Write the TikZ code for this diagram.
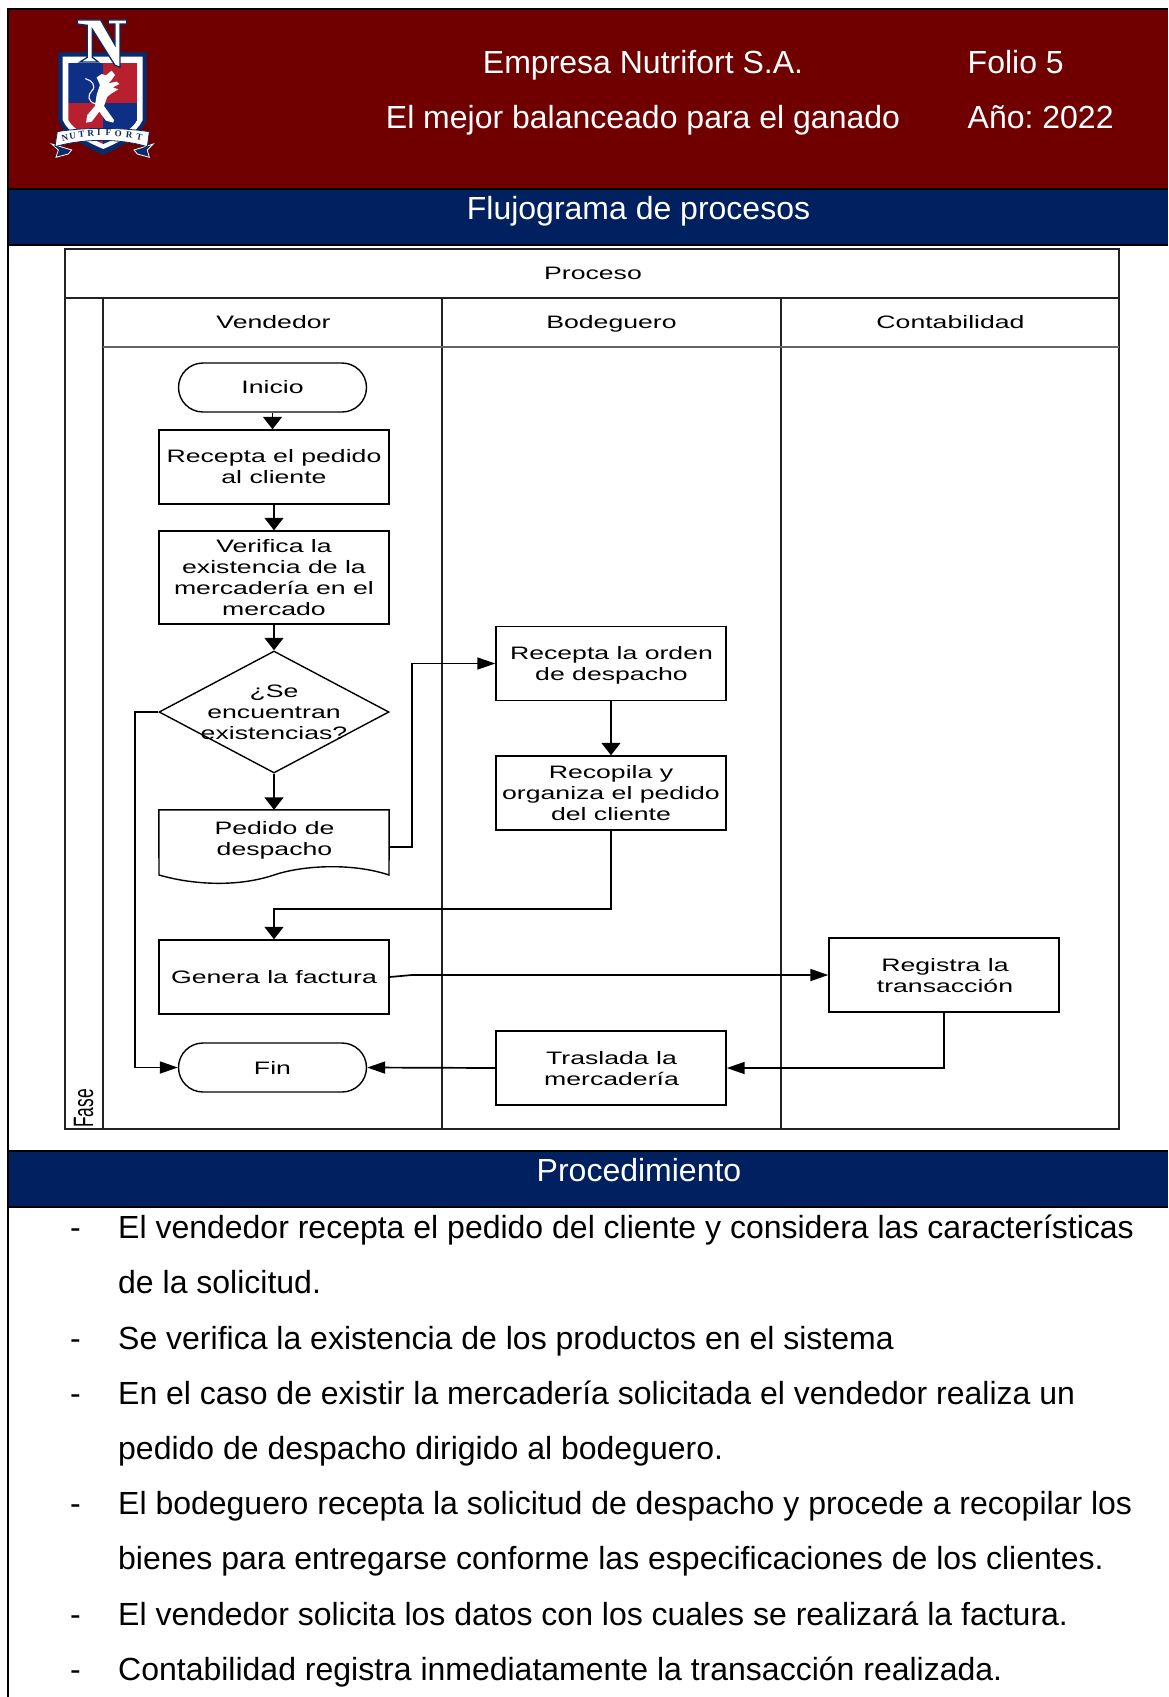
\documentclass[tikz,border=0pt]{standalone}
\usepackage{fontspec}
\setmainfont{Liberation Sans}
\newfontfamily\flowfont[FakeStretch=1.48]{Liberation Sans}
\newfontfamily\fasefont[FakeStretch=0.62]{Liberation Sans}
\newfontfamily\logofont{Liberation Serif}
\usetikzlibrary{arrows.meta,shapes.geometric}
\definecolor{bandred}{HTML}{700000}
\definecolor{bandnavy}{HTML}{002060}
\definecolor{shieldred}{HTML}{B8202F}
\definecolor{shieldblue}{HTML}{0E2F86}
\definecolor{shieldline}{HTML}{0B2A68}
\definecolor{framegray}{HTML}{222222}
\tikzset{
  flowtxt/.style={font=\flowfont\fontsize{18}{21}\selectfont,align=center,inner sep=0pt,text=black},
  procbox/.style={flowtxt,draw=black,line width=1.4pt,fill=white,rectangle,minimum width=230pt,minimum height=74pt},
  termbox/.style={flowtxt,draw=black,line width=1.4pt,fill=white,rectangle,rounded corners=24.5pt,minimum width=188pt,minimum height=49pt},
  decbox/.style={draw=black,line width=1.4pt,fill=white,diamond,aspect=1.885,minimum width=230pt,minimum height=122pt,inner sep=0pt},
  headtxt/.style={font=\fontsize{18}{21}\flowfont\selectfont,anchor=base,inner sep=0pt},
  bandtxt/.style={font=\fontsize{32}{32}\selectfont,text=white,anchor=base,inner sep=0pt},
  bodytxt/.style={font=\fontsize{32}{32}\selectfont,text=black,anchor=base west,inner sep=0pt},
  conn/.style={draw=black,line width=1.7pt},
  varrow/.style={conn,-{Triangle[length=12.5pt,width=19pt]}},
  harrow/.style={conn,-{Triangle[length=18pt,width=12pt]}},
  framel/.style={draw=framegray,line width=2pt},
  thinl/.style={draw=framegray!70,line width=1.5pt},
  bandedge/.style={draw=black,line width=2.2pt}
}
\begin{document}
\frenchspacing
\begin{tikzpicture}[x=1pt,y=-1pt]
\useasboundingbox (0,0) rectangle (1168,1697);
\fill[white] (0,0) rectangle (1168,1697);
% bands
\fill[bandred] (8,9) rectangle (1168,188);
\fill[bandnavy] (8,189) rectangle (1168,245);
\fill[bandnavy] (8,1151) rectangle (1168,1207);
\draw[bandedge] (8,1697) -- (8,9) -- (1168,9);
\draw[bandedge] (8,189) -- (1168,189);
\draw[bandedge] (8,245) -- (1168,245);
\draw[bandedge] (8,1151) -- (1168,1151);
\draw[bandedge] (8,1207) -- (1168,1207);
% logo
\begin{scope}[x=0.3333pt,y=-0.3333pt]
\filldraw[shieldline] (175,157) -- (440,157) -- (440,360) .. controls (420,410) and (360,440) .. (310,465) .. controls (260,440) and (195,410) .. (175,360) -- cycle;
\fill[white] (188,170) -- (428,170) -- (428,360) .. controls (410,400) and (360,425) .. (310,447) .. controls (260,425) and (205,400) .. (188,360) -- cycle;
\begin{scope}
\clip (205,188) -- (412,188) -- (412,360) .. controls (395,390) and (350,415) .. (310,432) .. controls (270,415) and (222,390) .. (205,360) -- cycle;
\fill[shieldblue] (205,188) rectangle (308,310);
\fill[shieldred] (308,188) rectangle (412,310);
\fill[shieldred] (205,310) rectangle (308,432);
\fill[shieldblue] (308,310) rectangle (412,432);
\end{scope}
% lion
\fill[white] (290,232) -- (305,222) -- (318,226) -- (335,212) -- (345,225) -- (335,240) -- (325,250) -- (350,245) -- (358,252) -- (338,262) -- (355,268) -- (335,280) -- (322,290) -- (312,318) -- (342,360) -- (340,368) -- (318,362) -- (298,335) -- (275,365) -- (258,368) -- (262,345) -- (285,318) -- (290,285) -- (300,255) -- cycle;
\draw[white,line width=1.1pt] (288,312) .. controls (262,305) and (262,285) .. (276,272) .. controls (290,258) and (275,240) .. (256,236);
% N
\filldraw[fill=white,draw=shieldline,line width=1.3pt] (232,60) -- (302,60) -- (345,135) -- (345,72) -- (325,72) -- (325,60) -- (380,60) -- (380,72) -- (360,72) -- (360,202) -- (345,196) -- (277,88) -- (277,172) -- (295,186) -- (240,186) -- (262,172) -- (262,76) -- (232,72) -- cycle;
% ribbon
\filldraw[fill=shieldline,draw=white,line width=0.8pt] (155,432) -- (215,450) -- (205,462) -- (168,472) -- (175,450) -- cycle;
\filldraw[fill=shieldline,draw=white,line width=0.8pt] (460,432) -- (402,450) -- (412,462) -- (448,472) -- (442,450) -- cycle;
\filldraw[fill=white,draw=shieldline,line width=0.8pt] (172,395) .. controls (250,382) and (360,382) .. (448,395) -- (442,440) .. controls (360,415) and (250,415) .. (165,440) -- cycle;
\foreach \lt/\lx/\ly/\lr [count=\li] in {N/195/413/12,U/218/408/9,T/245/404/6,R/272/400/3,I/297/399/0,F/325/399/-1,O/355/401/-3,R/388/405/-7,T/418/410/-10}
  \node[font=\logofont\bfseries\fontsize{9}{9}\selectfont,text=shieldline,inner sep=0pt,rotate=\lr] (logo\li) at (\lx,\ly) {\lt};
\end{scope}
% band texts
\node[bandtxt] (empresa) at (643,73) {Empresa Nutrifort S.A.};
\node[bandtxt] (lema) at (643,128) {El mejor balanceado para el ganado};
\node[bandtxt,anchor=base west] (folio) at (967.5,73) {Folio 5};
\node[bandtxt,anchor=base west] (anio) at (967.5,128) {Año: 2022};
\node[bandtxt] (fluj) at (638.5,219) {Flujograma de procesos};
\node[bandtxt] (proc) at (639,1181) {Procedimiento};
% frame
\draw[framel] (65,249) rectangle (1119,1129);
\draw[framel] (65,298) -- (1119,298);
\draw[framel] (103,298) -- (103,1129);
\draw[framel] (441.5,298) -- (441.5,1129);
\draw[framel] (780.5,298) -- (780.5,1129);
\draw[thinl] (103,347) -- (1119,347);
\node[headtxt] (proceso) at (593,279) {Proceso};
\node[headtxt] (vend) at (273.5,328) {Vendedor};
\node[headtxt] (bode) at (611.5,328) {Bodeguero};
\node[headtxt] (conta) at (950.5,328) {Contabilidad};
\node[font=\fasefont\fontsize{28}{28}\selectfont,rotate=90,anchor=base west,inner sep=0pt] (fase) at (93,1128) {Fase};
% flow nodes
\node[termbox] (inicio) at (272.5,387.5) {Inicio};
\node[procbox] (recepta) at (274,467) {Recepta el pedido\\al cliente};
\node[procbox,minimum height=93pt] (verifica) at (274,577.5) {Verifica la\\existencia de la\\mercadería en el\\mercado};
\node[decbox] (dec) at (274,712) {};
\node[flowtxt] (dectxt) at (274,712) {¿Se\\encuentran\\existencias?};
\node[flowtxt,minimum width=230pt,minimum height=74pt] (doc) at (274,847) {};
\draw[line width=1.4pt,fill=white] (doc.north west) -- (doc.north east) -- (389,875) .. controls (350,862) and (300,866) .. (274,875) .. controls (235,888) and (190,884) .. (159,875) -- cycle;
\node[flowtxt] (doctxt) at (274.5,840) {Pedido de\\despacho};
\node[procbox] (genera) at (274,977) {Genera la factura};
\node[termbox] (fin) at (272.5,1067.5) {Fin};
\node[procbox] (recorden) at (611,663.5) {};
\node[flowtxt] (recordentxt) at (611.5,665) {Recepta la orden\\de despacho};
\node[procbox] (recopila) at (611,793) {Recopila y\\organiza el pedido\\del cliente};
\node[procbox] (traslada) at (611,1068) {};
\node[flowtxt] (trasladatxt) at (611.5,1069) {Traslada la\\mercadería};
\node[procbox] (registra) at (944,975) {};
\node[flowtxt] (registratxt) at (945,976) {Registra la\\transacción};
% connectors
\draw[varrow] (inicio) -- (inicio |- recepta.north);
\draw[varrow] (recepta) -- (verifica);
\draw[varrow] (verifica) -- (dec);
\draw[varrow] (dec) -- (doc.north);
\draw[harrow] (doc.east) -- (412,847) -- (412,663.5) -- (recorden.west);
\draw[harrow] (dec.west) -- (135,712) -- (135,1067.5) -- (fin.west);
\draw[varrow] (recorden) -- (recopila);
\draw[varrow] (recopila.south) -- (611,909) -- (274,909) -- (genera.north);
\draw[harrow] (genera.east) -- (412,975) -- (registra.west);
\draw[harrow] (registra.south) -- (944,1068) -- (traslada.east);
\draw[harrow] (traslada.west) -- (fin.east);
% body
\foreach \by [count=\bi] in {1238,1349,1404,1514,1625,1680}
  \node[bodytxt] (dash\bi) at (70,\by) {-};
\node[bodytxt] (l1) at (118,1238) {El vendedor recepta el pedido del cliente y considera las características};
\node[bodytxt] (l2) at (118,1293) {de la solicitud.};
\node[bodytxt] (l3) at (118,1349) {Se verifica la existencia de los productos en el sistema};
\node[bodytxt] (l4) at (118,1404) {En el caso de existir la mercadería solicitada el vendedor realiza un};
\node[bodytxt] (l5) at (118,1459) {pedido de despacho dirigido al bodeguero.};
\node[bodytxt] (l6) at (118,1514) {El bodeguero recepta la solicitud de despacho y procede a recopilar los};
\node[bodytxt] (l7) at (118,1569) {bienes para entregarse conforme las especificaciones de los clientes.};
\node[bodytxt] (l8) at (118,1625) {El vendedor solicita los datos con los cuales se realizará la factura.};
\node[bodytxt] (l9) at (118,1680) {Contabilidad registra inmediatamente la transacción realizada.};
\end{tikzpicture}
\end{document}
